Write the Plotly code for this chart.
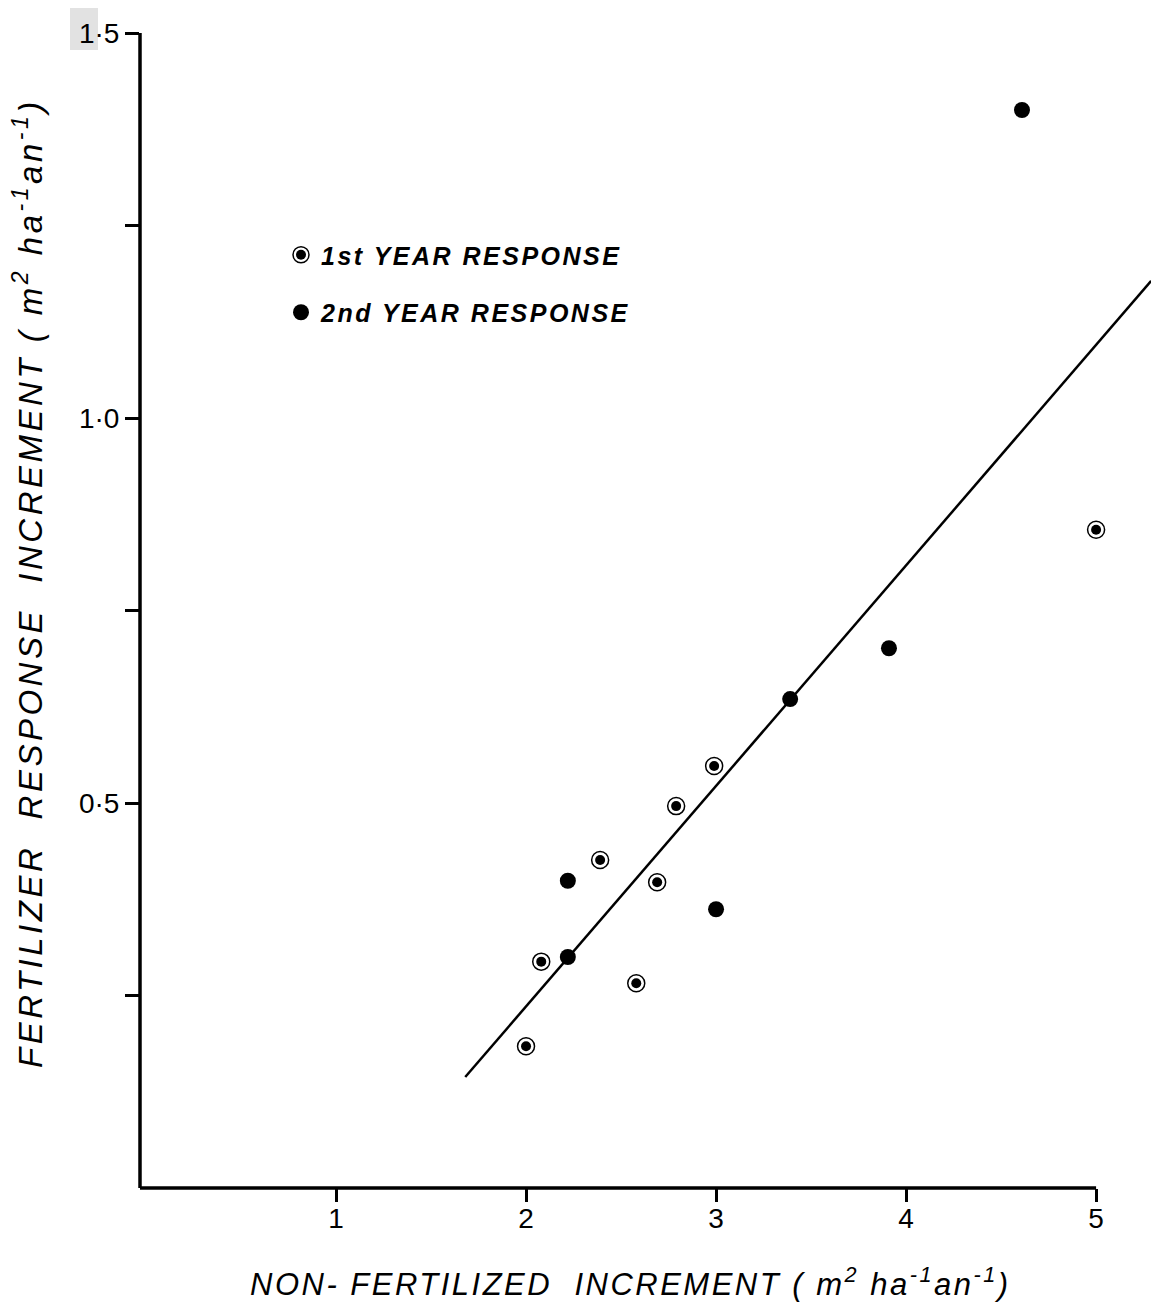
import plotly.graph_objects as go

# Non-fertilized increment (x) vs fertilizer response increment (y), m2 ha-1 an-1
first_year_x = [2.00, 2.08, 2.39, 2.58, 2.69, 2.79, 2.99, 5.00]
first_year_y = [0.184, 0.294, 0.426, 0.266, 0.397, 0.496, 0.548, 0.855]

second_year_x = [2.22, 2.22, 3.00, 3.39, 3.91, 4.61]
second_year_y = [0.399, 0.300, 0.362, 0.635, 0.701, 1.400]

# Fitted response line: y = slope * x + intercept over the plotted span
fit_slope = 0.2864
fit_intercept = -0.337
fit_x = [1.68, 5.29]
fit_y = [fit_slope * v + fit_intercept for v in fit_x]

x_ticks = [1, 2, 3, 4, 5]
x_tick_text = ["1", "2", "3", "4", "5"]
y_ticks = [0.25, 0.5, 0.75, 1.0, 1.25, 1.5]
y_tick_text = ["", "0·5", "", "1·0", "", "1·5"]

legend_first = "1st YEAR RESPONSE"
legend_second = "2nd YEAR RESPONSE"

UNITS = "( <i>m</i><sup>2</sup> <i>ha</i><sup>-1</sup><i>an</i><sup>-1</sup>)"
X_TITLE = "NON- FERTILIZED  INCREMENT " + UNITS
Y_TITLE = "FERTILIZER  RESPONSE  INCREMENT " + UNITS

W, H = 1151, 1311
ML, MB = 140, 123
PW, PH = W - ML, H - MB
X_RANGE = [-0.0316, 5.289]
Y_RANGE = [0.0, 1.5429]


def xfrac(v):
    return (v - X_RANGE[0]) / (X_RANGE[1] - X_RANGE[0])


def yfrac(v):
    return (v - Y_RANGE[0]) / (Y_RANGE[1] - Y_RANGE[0])


def spaced(s, px):
    return '<span style="letter-spacing:%spx">%s</span>' % (px, s)


TICK_FONT = dict(family="Liberation Sans, Arial", size=28, color="black")
TITLE_FONT = dict(family="Liberation Sans, Arial", size=31, color="black", style="italic")
YTITLE_FONT = dict(TITLE_FONT, size=33)
LEGEND_FONT = dict(family="Liberation Sans, Arial", size=25, color="black",
                   style="italic", weight="bold")

fig = go.Figure()

fig.add_trace(go.Scatter(
    x=fit_x, y=fit_y, mode="lines",
    line=dict(color="black", width=2.5),
    showlegend=False, hoverinfo="skip",
))

# 1st year: open ring with a solid centre dot (ring + dot traces)
fig.add_trace(go.Scatter(
    x=first_year_x, y=first_year_y, mode="markers", name=spaced(legend_first, 2.5),
    marker=dict(symbol="circle", size=17, color="white",
                line=dict(color="black", width=1.5)),
    legend="legend", legendgroup="g1",
))
fig.add_trace(go.Scatter(
    x=first_year_x, y=first_year_y, mode="markers", name=spaced(legend_first, 2.5),
    marker=dict(symbol="circle", size=10, color="black", line=dict(width=0)),
    legend="legend2", legendgroup="g1b",
))

fig.add_trace(go.Scatter(
    x=second_year_x, y=second_year_y, mode="markers", name=spaced(legend_second, 2.5),
    marker=dict(symbol="circle", size=16, color="black", line=dict(width=0)),
    legend="legend", legendgroup="g2",
))

# Axis lines: x axis stops at 5, y axis stops at 1.5
fig.add_shape(type="line", xref="paper", yref="paper",
              x0=xfrac(X_RANGE[0]), x1=xfrac(5), y0=0, y1=0,
              line=dict(color="black", width=3.5))
fig.add_shape(type="line", xref="paper", yref="paper",
              x0=0, x1=0, y0=0, y1=yfrac(1.5),
              line=dict(color="black", width=3.5))

# Light grey speckle behind the top tick label
fig.add_shape(type="rect", xref="paper", yref="paper", layer="below",
              x0=(70 - ML) / PW, x1=(98 - ML) / PW, y0=1 - 50 / PH, y1=1 - 8 / PH,
              fillcolor="#e2e2e2", line=dict(width=0))

legend_common = dict(
    x=(281 - ML) / PW, y=1 - 232 / PH,
    xanchor="left", yanchor="top",
    bgcolor="rgba(0,0,0,0)", borderwidth=0,
    traceorder="grouped", tracegroupgap=22,
    itemclick=False, itemdoubleclick=False,
)

fig.update_layout(
    width=W, height=H,
    margin=dict(l=ML, r=0, t=0, b=MB),
    paper_bgcolor="white", plot_bgcolor="white",
    font=dict(family="Liberation Sans, Arial", color="black"),
    legend=dict(font=LEGEND_FONT, **legend_common),
    legend2=dict(font=dict(LEGEND_FONT, color="rgba(0,0,0,0)"), **legend_common),
    xaxis=dict(
        range=X_RANGE, showgrid=False, zeroline=False, showline=False,
        tickmode="array", tickvals=x_ticks, ticktext=x_tick_text,
        ticks="outside", ticklen=13, tickwidth=3, tickcolor="black",
        tickfont=TICK_FONT, ticklabelstandoff=-8,
    ),
    yaxis=dict(
        range=Y_RANGE, showgrid=False, zeroline=False, showline=False,
        tickmode="array", tickvals=y_ticks, ticktext=y_tick_text,
        ticks="outside", ticklen=14, tickwidth=3, tickcolor="black",
        tickfont=TICK_FONT,
    ),
    annotations=[
        dict(text=spaced(X_TITLE, 2.5), xref="paper", yref="paper",
             x=(630 - ML) / PW, y=-(1282 - PH) / PH,
             xanchor="center", yanchor="middle", showarrow=False, font=TITLE_FONT),
        dict(text=spaced(Y_TITLE, 3.5), xref="paper", yref="paper",
             x=(28 - ML) / PW, y=1 - 583 / PH,
             xanchor="center", yanchor="middle", textangle=-90,
             showarrow=False, font=YTITLE_FONT),
    ],
)

fig.write_html("out.html")
